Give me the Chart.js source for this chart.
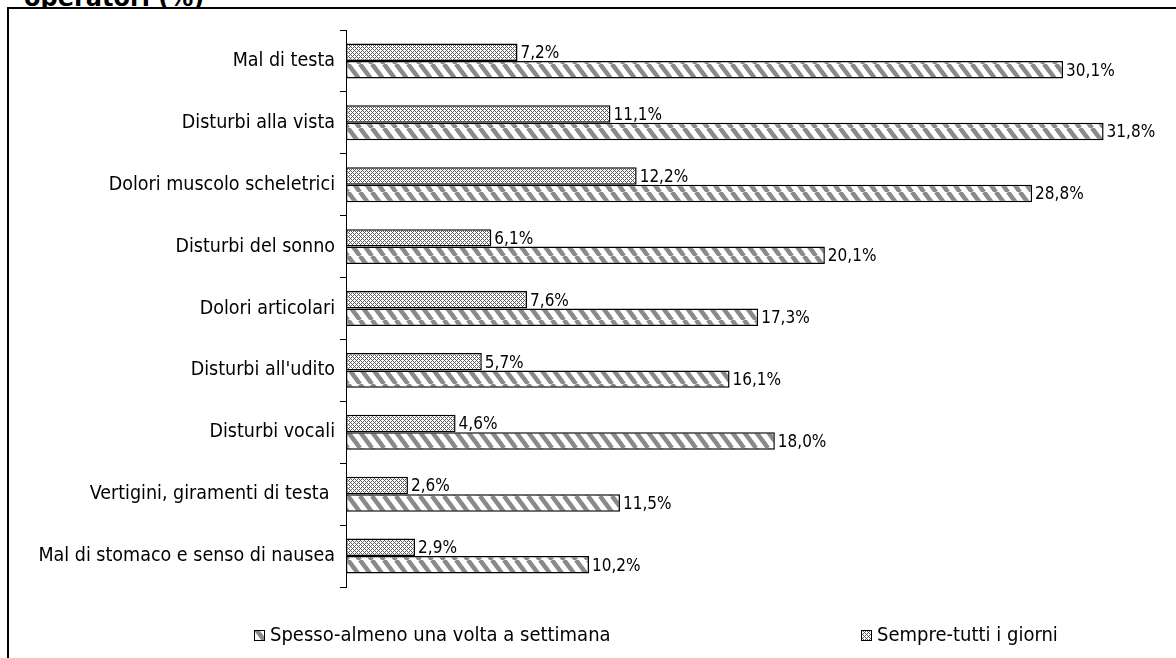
<!DOCTYPE html>
<html>
<head>
<meta charset="utf-8">
<script src="https://cdn.jsdelivr.net/npm/chart.js@4/dist/chart.umd.min.js"></script>
<style>
  html, body { margin: 0; padding: 0; background: #fff; }
  #wrap { position: relative; width: 1176px; height: 658px; overflow: hidden; background: #fff; }
  #title { position: absolute; left: 24px; top: -14px; font: bold 24px "DejaVu Sans", sans-serif; line-height: 24px; color: #000; z-index: 0; white-space: nowrap; }
  #box { position: absolute; left: 7px; top: 7px; width: 1300px; height: 800px; border: 2px solid #000; background: #fff; z-index: 1; }
  #c { position: absolute; left: 0; top: 0; z-index: 2; }
</style>
</head>
<body>
<div id="wrap">
  <div id="title">operatori (%)</div>
  <div id="box"></div>
  <canvas id="c" width="1176" height="658"></canvas>
</div>
<script>
const categories = [
  'Mal di testa',
  'Disturbi alla vista',
  'Dolori muscolo scheletrici',
  'Disturbi del sonno',
  'Dolori articolari',
  "Disturbi all'udito",
  'Disturbi vocali',
  'Vertigini, giramenti di testa ',
  'Mal di stomaco e senso di nausea'
];
const sempreValues = [7.2, 11.1, 12.2, 6.1, 7.6, 5.7, 4.6, 2.6, 2.9];
const spessoValues = [30.1, 31.8, 28.8, 20.1, 17.3, 16.1, 18.0, 11.5, 10.2];
const sempreLabel = 'Sempre-tutti i giorni';
const spessoLabel = 'Spesso-almeno una volta a settimana';

const FONT_FAMILY = '"DejaVu Sans Condensed", "DejaVu Sans", sans-serif';
const CAT_SIZE = 19.5;
const VAL_SIZE = 17;
const LEG_SIZE = 20;

function makeCrossPattern(ctx) {
  const t = document.createElement('canvas');
  t.width = 4; t.height = 4;
  const c = t.getContext('2d');
  c.fillStyle = '#ffffff';
  c.fillRect(0, 0, 4, 4);
  c.fillStyle = '#5c5c5c';
  [[0,0],[1,1],[2,2],[3,3],[1,3],[3,1]].forEach(p => c.fillRect(p[0], p[1], 1, 1));
  return ctx.createPattern(t, 'repeat');
}
function makeStripePattern(ctx) {
  const W = 12, H = 16;
  const t = document.createElement('canvas');
  t.width = W; t.height = H;
  const c = t.getContext('2d');
  c.fillStyle = '#ffffff';
  c.fillRect(0, 0, W, H);
  c.strokeStyle = '#8a8a8a';
  c.lineWidth = 4.5;
  for (let k = -1; k <= 1; k++) {
    c.beginPath();
    c.moveTo(k * W, 0);
    c.lineTo(k * W + W, H);
    c.stroke();
  }
  return ctx.createPattern(t, 'repeat');
}

const canvas = document.getElementById('c');
const ctx = canvas.getContext('2d');
const crossPat = makeCrossPattern(ctx);
const stripePat = makeStripePattern(ctx);

const fmt = v => v.toFixed(1).replace('.', ',') + '%';

const valueLabels = {
  id: 'valueLabels',
  afterDatasetsDraw(chart) {
    const c = chart.ctx;
    c.save();
    c.font = VAL_SIZE + 'px ' + FONT_FAMILY;
    c.fillStyle = '#000';
    c.textAlign = 'left';
    c.textBaseline = 'middle';
    chart.data.datasets.forEach((ds, di) => {
      const meta = chart.getDatasetMeta(di);
      meta.data.forEach((bar, i) => {
        c.fillText(fmt(ds.data[i]), bar.x + 3, bar.y + 1.5);
      });
    });
    c.restore();
  }
};

const customLegend = {
  id: 'customLegend',
  afterDraw(chart) {
    const c = chart.ctx;
    const order = [1, 0];
    const xs = [254, 861];
    const yc = 636;
    c.save();
    c.font = LEG_SIZE + 'px ' + FONT_FAMILY;
    c.textAlign = 'left';
    c.textBaseline = 'middle';
    order.forEach((di, k) => {
      const ds = chart.data.datasets[di];
      const x = xs[k];
      c.fillStyle = ds.backgroundColor;
      c.fillRect(x, yc - 6, 11, 11);
      c.strokeStyle = '#000';
      c.lineWidth = 1;
      c.strokeRect(x + 0.5, yc - 5.5, 10, 10);
      c.fillStyle = '#000';
      c.fillText(ds.label, x + 16, yc);
    });
    c.restore();
  }
};

new Chart(canvas, {
  type: 'bar',
  data: {
    labels: categories,
    datasets: [
      {
        label: sempreLabel,
        data: sempreValues,
        backgroundColor: crossPat,
        borderColor: '#000',
        borderWidth: 1.5,
        borderSkipped: false,
        categoryPercentage: 0.565,
        barPercentage: 1.0
      },
      {
        label: spessoLabel,
        data: spessoValues,
        backgroundColor: stripePat,
        borderColor: '#000',
        borderWidth: 1.5,
        borderSkipped: false,
        categoryPercentage: 0.565,
        barPercentage: 1.0
      }
    ]
  },
  options: {
    indexAxis: 'y',
    responsive: false,
    animation: false,
    devicePixelRatio: 1,
    layout: { padding: { top: 30, bottom: 71, left: 0, right: 20 } },
    scales: {
      x: { display: false, min: 0, max: 34 },
      y: {
        grid: { drawOnChartArea: false, tickLength: 6, color: '#000', offset: true },
        border: { display: true, color: '#000', width: 1 },
        ticks: { color: '#000', font: { family: FONT_FAMILY, size: CAT_SIZE }, padding: 5 },
        afterFit(scale) { scale.width = 346; }
      }
    },
    plugins: {
      legend: { display: false },
      tooltip: { enabled: false }
    }
  },
  plugins: [valueLabels, customLegend]
});
</script>
</body>
</html>
